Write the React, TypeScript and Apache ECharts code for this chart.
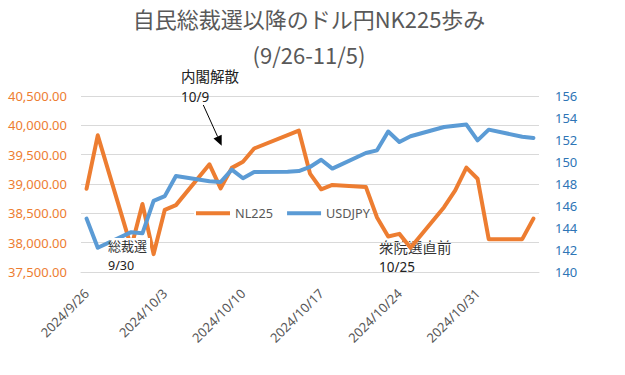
import React, { useEffect, useRef } from "react";
import * as echarts from "echarts";

// Axis range (calendar days shown on the category axis)
const firstDay = [2024, 9, 26];
const lastDay = [2024, 11, 5];

// Nikkei 225 (left axis)
const nkDates = [
  "2024/9/26", "2024/9/27", "2024/9/30", "2024/10/1", "2024/10/2", "2024/10/3", "2024/10/4",
  "2024/10/7", "2024/10/8", "2024/10/9", "2024/10/10", "2024/10/11", "2024/10/15", "2024/10/16",
  "2024/10/17", "2024/10/18", "2024/10/21", "2024/10/22", "2024/10/23", "2024/10/24", "2024/10/25",
  "2024/10/28", "2024/10/29", "2024/10/30", "2024/10/31", "2024/11/1", "2024/11/4", "2024/11/5",
];
const nkValues = [
  38920, 39830, 37920, 38660, 37805, 38560, 38640,
  39335, 38925, 39275, 39378, 39605, 39910, 39178,
  38910, 38985, 38950, 38430, 38105, 38150, 37915,
  38605, 38890, 39279, 39090, 38060, 38060, 38410,
];

// USDJPY (right axis)
const fxDates = [
  "2024/9/26", "2024/9/27", "2024/9/30", "2024/10/1", "2024/10/2", "2024/10/3", "2024/10/4",
  "2024/10/7", "2024/10/8", "2024/10/9", "2024/10/10", "2024/10/11", "2024/10/14", "2024/10/15",
  "2024/10/16", "2024/10/17", "2024/10/18", "2024/10/21", "2024/10/22", "2024/10/23", "2024/10/24",
  "2024/10/25", "2024/10/28", "2024/10/29", "2024/10/30", "2024/10/31", "2024/11/1", "2024/11/4",
  "2024/11/5",
];
const fxValues = [
  144.85, 142.2, 143.62, 143.52, 146.46, 146.9, 148.73,
  148.25, 148.18, 149.3, 148.52, 149.1, 149.12, 149.18,
  149.55, 150.2, 149.4, 150.82, 151.06, 152.77, 151.82,
  152.34, 153.18, 153.3, 153.4, 151.97, 152.94, 152.3,
  152.18,
];

const leftAxis = { min: 37500, max: 40500, interval: 500 };
const rightAxis = { min: 140, max: 156, interval: 2 };

const titleLine1 = "自民総裁選以降のドル円NK225歩み";
const titleLine2 = "(9/26-11/5)";

const FONT = "'Noto Sans', 'Noto Sans CJK JP', sans-serif";
const JFONT = "'Noto Sans CJK JP', 'Noto Sans', sans-serif";

function buildDays(): string[] {
  const out: string[] = [];
  const d = new Date(firstDay[0], firstDay[1] - 1, firstDay[2]);
  const end = new Date(lastDay[0], lastDay[1] - 1, lastDay[2]);
  while (d <= end) {
    out.push(`${d.getFullYear()}/${d.getMonth() + 1}/${d.getDate()}`);
    d.setDate(d.getDate() + 1);
  }
  return out;
}

function arrow(x1: number, y1: number, x2: number, y2: number) {
  const dx = x2 - x1, dy = y2 - y1;
  const len = Math.sqrt(dx * dx + dy * dy);
  const ux = dx / len, uy = dy / len;
  const hl = 10, hw = 4.5;
  const bx = x2 - ux * hl, by = y2 - uy * hl;
  const px = -uy, py = ux;
  return [
    {
      type: "line",
      z: 50,
      shape: { x1, y1, x2: bx, y2: by },
      style: { stroke: "#000", lineWidth: 1 },
    },
    {
      type: "polygon",
      z: 50,
      shape: {
        points: [
          [x2, y2],
          [bx + px * hw, by + py * hw],
          [bx - px * hw, by - py * hw],
        ],
      },
      style: { fill: "#000" },
    },
  ];
}

export default function App() {
  const ref = useRef<HTMLDivElement>(null);
  useEffect(() => {
    document.body.style.margin = "0";
    if (!ref.current) return;
    const chart = echarts.init(ref.current, undefined, { renderer: "svg" });
    const days = buildDays();
    const nkData = nkDates.map((d, i) => [d, nkValues[i]]);
    const fxData = fxDates.map((d, i) => [d, fxValues[i]]);
    const fmt = (v: number) =>
      v.toLocaleString("en-US", { minimumFractionDigits: 2, maximumFractionDigits: 2 });

    chart.setOption({
      animation: false,
      backgroundColor: "#fff",
      grid: { left: 81, right: 86, top: 96, bottom: 103, containLabel: false },
      legend: {
        left: 194,
        top: 205,
        icon: "rect",
        itemWidth: 34,
        itemHeight: 4,
        itemGap: 14,
        padding: [2, 0, 2, 2],
        backgroundColor: "#fff",
        textStyle: { color: "#595959", fontSize: 12.7, fontFamily: FONT },
        data: ["NL225", "USDJPY"],
      },
      xAxis: {
        type: "category",
        data: days,
        boundaryGap: true,
        axisLine: { lineStyle: { color: "#D9D9D9", width: 1 } },
        axisTick: { interval: 6, length: 5, lineStyle: { color: "#D9D9D9" } },
        axisLabel: {
          interval: 6,
          rotate: 45,
          margin: 19,
          color: "#595959",
          fontSize: 13,
          fontFamily: FONT,
        },
        splitLine: { show: false },
      },
      yAxis: [
        {
          type: "value",
          min: leftAxis.min,
          max: leftAxis.max,
          interval: leftAxis.interval,
          axisLine: { show: false },
          axisTick: { show: false },
          axisLabel: { color: "#ED7D31", fontSize: 13, margin: 14, fontFamily: FONT, formatter: fmt },
          splitLine: { lineStyle: { color: "#D9D9D9", width: 1 } },
        },
        {
          type: "value",
          position: "right",
          min: rightAxis.min,
          max: rightAxis.max,
          interval: rightAxis.interval,
          axisLine: { show: false },
          axisTick: { show: false },
          axisLabel: { color: "#2E75B6", fontSize: 13, margin: 16, fontFamily: FONT },
          splitLine: { show: false },
        },
      ],
      series: [
        {
          name: "NL225",
          type: "line",
          yAxisIndex: 0,
          data: nkData,
          symbol: "none",
          color: "#ED7D31",
          lineStyle: { width: 4, color: "#ED7D31", join: "round", cap: "round" },
          z: 2,
        },
        {
          name: "USDJPY",
          type: "line",
          yAxisIndex: 1,
          data: fxData,
          symbol: "none",
          color: "#5B9BD5",
          lineStyle: { width: 4, color: "#5B9BD5", join: "round", cap: "round" },
          z: 3,
        },
      ],
      graphic: [
        {
          type: "text",
          x: 309,
          y: 18,
          style: {
            text: titleLine1,
            fill: "#595959",
            fontSize: 22,
            fontFamily: JFONT,
            textAlign: "center",
            textVerticalAlign: "middle",
          },
        },
        {
          type: "text",
          x: 309,
          y: 54,
          style: {
            text: titleLine2,
            fill: "#595959",
            fontSize: 22,
            fontFamily: JFONT,
            textAlign: "center",
            textVerticalAlign: "middle",
          },
        },
        {
          type: "text",
          x: 181,
          y: 75,
          z: 50,
          style: { text: "内閣解散", fill: "#222", fontSize: 14.5, fontFamily: JFONT, textVerticalAlign: "middle" },
        },
        {
          type: "text",
          x: 181,
          y: 97,
          z: 50,
          style: { text: "10/9", fill: "#222", fontSize: 13.5, fontFamily: FONT, textVerticalAlign: "middle" },
        },
        ...arrow(203.3, 105, 221.7, 145.7),
        {
          type: "rect",
          z: 60,
          shape: { x: 110, y: 238, width: 40, height: 32 },
          style: { fill: "#fff" },
        },
        {
          type: "text",
          x: 108,
          y: 245,
          z: 61,
          style: { text: "総裁選", fill: "#333", fontSize: 13, fontFamily: JFONT, textVerticalAlign: "middle" },
        },
        {
          type: "text",
          x: 108,
          y: 265,
          z: 61,
          style: { text: "9/30", fill: "#222", fontSize: 12.5, fontFamily: FONT, textVerticalAlign: "middle" },
        },
        {
          type: "text",
          x: 379,
          y: 246.5,
          z: 0,
          style: { text: "衆院選直前", fill: "#333", fontSize: 14.5, fontFamily: JFONT, textVerticalAlign: "middle" },
        },
        {
          type: "text",
          x: 379,
          y: 267,
          z: 0,
          style: { text: "10/25", fill: "#222", fontSize: 13.5, fontFamily: FONT, textVerticalAlign: "middle" },
        },
      ],
    });
    return () => chart.dispose();
  }, []);
  return <div ref={ref} style={{ width: 625, height: 375 }} />;
}
